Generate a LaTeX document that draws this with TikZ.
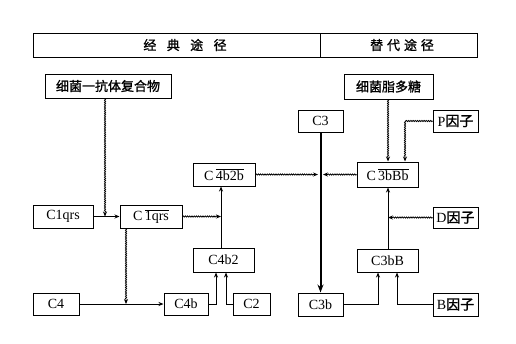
\documentclass[tikz,border=0pt]{standalone}
\usepackage{fontspec}
\setmainfont{Liberation Serif}
\newfontfamily\cjk[FakeBold=1.2]{Noto Sans CJK SC}
\usetikzlibrary{arrows.meta,decorations.pathmorphing}
\begin{document}
\begin{tikzpicture}[x=1pt,y=-1pt,
  box/.style={draw,line width=1pt,inner sep=0pt,font=\fontsize{14}{16}\selectfont},
  cbox/.style={box,font=\fontsize{13}{15}\selectfont\cjk},
  ln/.style={line width=0.8pt},
  arr/.style={ln,-{Stealth[length=5pt,width=4pt]}},
  wavy/.style={arr,decorate,decoration={snake,amplitude=0.6pt,segment length=2.2pt,post length=4pt}},
  wavyline/.style={ln,decorate,decoration={snake,amplitude=0.6pt,segment length=2.2pt}}]
\useasboundingbox (0,0) rectangle (516,343);
% header
\draw[line width=1pt] (33,33) rectangle (477,57);
\draw[line width=1pt] (320,33) -- (320,57);
\node[font=\fontsize{13}{15}\selectfont\cjk] (h1) at (185,45) {经\hspace{0.8em}典\hspace{0.8em}途\hspace{0.8em}径};
\node[font=\fontsize{13}{15}\selectfont\cjk] (h2) at (402,45) {替\hspace{0.3em}代\hspace{0.3em}途\hspace{0.3em}径};
% nodes
\node[cbox,minimum width=126,minimum height=24] (cx) at (108,86) {细菌一抗体复合物};
\node[cbox,minimum width=89,minimum height=25] (lps) at (388.5,86.5) {细菌脂多糖};
\node[box,minimum width=45,minimum height=22] (C3) at (320.5,121) {C3};
\node[box,minimum width=45,minimum height=22] (P) at (455.5,121) {P{\cjk 因子}};
\node[box,minimum width=61,minimum height=25] (C3bBb) at (387.5,174.5) {C\,$\overline{\mbox{3bBb}}$};
\node[box,minimum width=45,minimum height=21] (D) at (455.5,217.5) {D{\cjk 因子}};
\node[box,minimum width=60,minimum height=23] (C1) at (63,216.5) {C1qrs};
\node[box,minimum width=62,minimum height=23] (C1a) at (151,216.5) {C\,$\overline{\mbox{1qrs}}$};
\node[box,minimum width=62,minimum height=23] (C4b2b) at (224,174.5) {C\,$\overline{\mbox{4b2b}}$};
\node[box,minimum width=61,minimum height=24] (C4b2) at (223.5,260) {C4b2};
\node[box,minimum width=46,minimum height=22] (C4) at (56,304) {C4};
\node[box,minimum width=44,minimum height=22] (C4b) at (186,304) {C4b};
\node[box,minimum width=37,minimum height=22] (C2) at (251.5,304) {C2};
\node[box,minimum width=61,minimum height=23] (C3bB) at (387.5,260.5) {C3bB};
\node[box,minimum width=45,minimum height=23] (C3b) at (320.5,304.5) {C3b};
\node[box,minimum width=45,minimum height=23] (B) at (455.5,304.5) {B{\cjk 因子}};
% junction coordinates
\coordinate (j1) at (105,216.5);
\coordinate (j2) at (126,304);
\coordinate (v1) at (221,174.5);
\coordinate (vL) at (318,174.5);
\coordinate (vR) at (323,174.5);
\coordinate (p1) at (405,121);
\coordinate (d1) at (388,217.5);
% classical pathway
\draw[wavy] (cx.south -| j1) -- (j1);
\draw[arr] (C1) -- (C1a);
\draw[wavy] (C1a.east) -- (C1a.east -| v1);
\draw[wavy] (C1a.south -| j2) -- (j2);
\draw[arr] (C4) -- (C4b);
\draw[arr] (C4b.east) -| (C4b2.south -| 216,0);
\draw[arr] (C2.west) -| (C4b2.south -| 226,0);
\draw[arr] (C4b2.north -| v1) -- (C4b2b.south -| v1);
\draw[wavy] (C4b2b.east) -- (vL);
% alternative pathway
\draw[line width=2pt,-{Stealth[length=8pt,width=6pt]}] (C3.south) -- (C3b.north);
\draw[wavy] (C3bBb.west) -- (vR);
\draw[wavy] (lps.south -| d1) -- (C3bBb.north -| d1);
\draw[wavyline] (P.west) -- (p1);
\draw[wavy] (p1) -- (C3bBb.north -| p1);
\draw[wavy] (D.west) -- (d1);
\draw[arr] (C3bB.north -| d1) -- (C3bBb.south -| d1);
\draw[arr] (C3b.east) -| (C3bB.south -| 378,0);
\draw[arr] (B.west) -| (C3bB.south -| 397,0);
\end{tikzpicture}
\end{document}
